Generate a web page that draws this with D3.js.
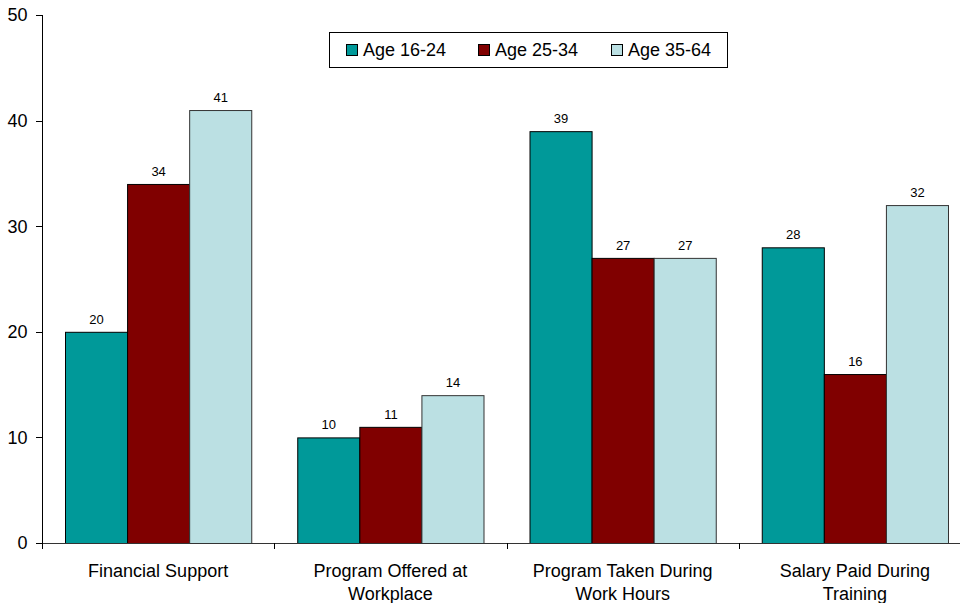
<!DOCTYPE html>
<html><head><meta charset="utf-8">
<script src="https://cdn.jsdelivr.net/npm/d3@7"></script>
<style>body{margin:0;background:#fff;}svg{display:block;font-family:"Liberation Sans",Arial,sans-serif;}</style>
</head><body>
<svg id="c" width="960" height="603"></svg>
<script>
const categories = [["Financial Support"], ["Program Offered at", "Workplace"], ["Program Taken During", "Work Hours"], ["Salary Paid During", "Training"]];
const seriesNames = ["Age 16-24", "Age 25-34", "Age 35-64"];
const age1624 = [20, 10, 39, 28];
const age2534 = [34, 11, 27, 16];
const age3564 = [41, 14, 27, 32];
const yTicks = [0, 10, 20, 30, 40, 50];
const colors = ["#009999", "#800000", "#BBE0E3"];

const series = [age1624, age2534, age3564];
const svg = d3.select("#c");
const x0 = d3.scaleBand().domain(d3.range(categories.length)).range([42, 971]).padding(0);
const x1 = d3.scaleBand().domain(d3.range(seriesNames.length)).range([23, x0.bandwidth() - 23]).padding(0);
const y = d3.scaleLinear().domain([0, 50]).range([543, 15]);

// y axis
svg.append("line").attr("x1", 42.5).attr("x2", 42.5).attr("y1", 15).attr("y2", 543).attr("stroke", "#000");
yTicks.forEach(t => {
  svg.append("line").attr("x1", 36).attr("x2", 42.5).attr("y1", Math.round(y(t)) + 0.5).attr("y2", Math.round(y(t)) + 0.5).attr("stroke", "#000");
  svg.append("text").attr("x", 27.5).attr("y", y(t)).attr("dy", "0.36em").attr("text-anchor", "end")
    .attr("font-size", "18px").attr("fill", "#000").text(t);
});

// bars
categories.forEach((c, i) => {
  series.forEach((s, j) => {
    const bx = x0(i) + x1(j);
    svg.append("rect").attr("x", bx + 0.5).attr("y", y(s[i]) + 0.5)
      .attr("width", x1.bandwidth()).attr("height", y(0) - y(s[i]))
      .attr("fill", colors[j]).attr("stroke", j === 2 ? "#333" : "#000").attr("stroke-width", 1);
    svg.append("text").attr("x", bx + x1.bandwidth() / 2 + 0.5).attr("y", y(s[i]) - 8)
      .attr("text-anchor", "middle").attr("font-size", "13px").attr("fill", "#000").text(s[i]);
  });
});

// x axis
svg.append("line").attr("x1", 42).attr("x2", 971).attr("y1", 543.5).attr("y2", 543.5).attr("stroke", "#333");
for (let i = 0; i <= categories.length; i++) {
  const tx = Math.round(i < categories.length ? x0(i) : x0(i - 1) + x0.bandwidth()) + 0.5;
  svg.append("line").attr("x1", tx).attr("x2", tx).attr("y1", 543).attr("y2", 549).attr("stroke", "#000");
}
categories.forEach((c, i) => {
  const t = svg.append("text").attr("x", x0(i) + x0.bandwidth() / 2).attr("y", 576.5)
    .attr("text-anchor", "middle").attr("font-size", "18px").attr("fill", "#000");
  c.forEach((line, k) => t.append("tspan").attr("x", x0(i) + x0.bandwidth() / 2).attr("dy", k === 0 ? 0 : 23.5).text(line));
});

// legend
const lg = svg.append("g");
lg.append("rect").attr("x", 329.5).attr("y", 32.5).attr("width", 398).attr("height", 35).attr("fill", "#fff").attr("stroke", "#000");
const legX = [346, 478, 611];
seriesNames.forEach((n, j) => {
  lg.append("rect").attr("x", legX[j] + 0.5).attr("y", 44.5).attr("width", 11).attr("height", 11).attr("fill", colors[j]).attr("stroke", "#000");
  lg.append("text").attr("x", legX[j] + 17).attr("y", 56).attr("font-size", "18px").attr("fill", "#000").text(n);
});
</script>
</body></html>
